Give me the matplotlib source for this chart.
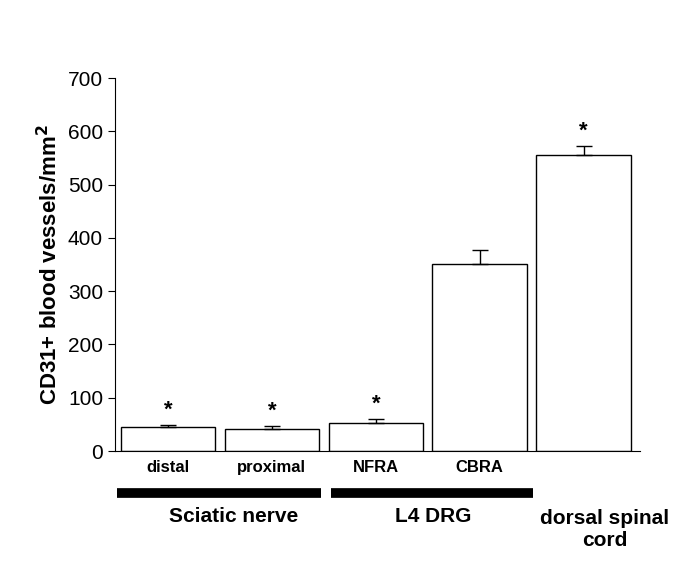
import matplotlib
matplotlib.use("Agg")
import matplotlib.pyplot as plt

labels = ["distal", "proximal", "NFRA", "CBRA", ""]
values = [46, 42, 53, 351, 556]
errors = [2, 5, 8, 27, 17]
starred = [True, True, True, False, True]

plt.rcParams["font.family"] = ["Liberation Sans", "DejaVu Sans"]
fig = plt.figure(figsize=(6.88, 5.62), dpi=100)
ax = fig.add_axes([0.167, 0.1975, 0.763, 0.6635])
x = list(range(len(values)))
ax.bar(x, values, width=0.91, color="white", edgecolor="black", linewidth=1,
       yerr=[[0] * len(errors), errors], error_kw=dict(ecolor="black", elinewidth=1, capsize=6, capthick=1))
for xi, v, e, s in zip(x, values, errors, starred):
    if s:
        ax.text(xi, v + e + 8, "*", ha="center", va="bottom", fontsize=16, fontweight="bold")
ax.set_xlim(-0.51, 4.54)
ax.set_ylim(0, 700)
ax.set_yticks(range(0, 701, 100))
ax.tick_params(axis="y", labelsize=15, direction="out", length=5)
ax.set_xticks([])
ax.spines["top"].set_visible(False)
ax.spines["right"].set_visible(False)
ax.set_ylabel("CD31+ blood vessels/mm$\\mathbf{^2}$", fontsize=16, fontweight="bold")
for xi, lab in zip(x, labels):
    ax.text(xi, -0.045, lab, transform=ax.get_xaxis_transform(), ha="center", va="center",
            fontsize=12, fontweight="bold")
ax.plot([-0.49, 1.47], [-0.112, -0.112], transform=ax.get_xaxis_transform(), color="black",
        linewidth=7, clip_on=False, solid_capstyle="butt")
ax.plot([1.57, 3.51], [-0.112, -0.112], transform=ax.get_xaxis_transform(), color="black",
        linewidth=7, clip_on=False, solid_capstyle="butt")
ax.text(0.63, -0.175, "Sciatic nerve", transform=ax.get_xaxis_transform(), ha="center", va="center",
        fontsize=15, fontweight="bold")
ax.text(2.55, -0.175, "L4 DRG", transform=ax.get_xaxis_transform(), ha="center", va="center",
        fontsize=15, fontweight="bold")
ax.text(4.2, -0.21, "dorsal spinal\ncord", transform=ax.get_xaxis_transform(), ha="center", va="center",
        fontsize=15, fontweight="bold", linespacing=1.2)
fig.savefig("out.png", dpi=100)
